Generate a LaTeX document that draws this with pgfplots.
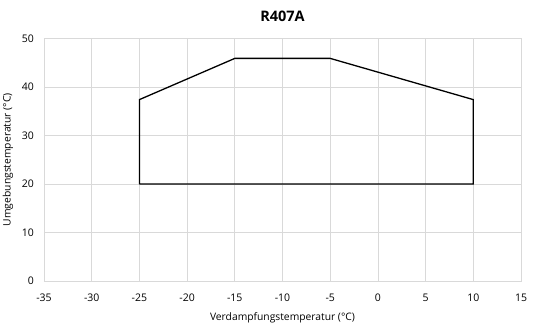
\documentclass[border=0pt]{standalone}
\usepackage{pgfplots}
\pgfplotsset{compat=1.18}
\usepackage{fontspec}
\setmainfont{Open Sans}
\definecolor{gridc}{RGB}{217,217,217}
\begin{document}
\begin{tikzpicture}
\path[use as bounding box] (-44pt,-44pt) rectangle (490pt,281pt);
\begin{axis}[
  at={(0pt,0pt)}, anchor=south west,
  scale only axis, width=477pt, height=242.5pt,
  xmin=-35, xmax=15, ymin=0, ymax=50,
  xtick={-35,-30,...,15}, ytick={0,10,...,50},
  grid=major, major grid style={gridc, line width=0.8pt},
  axis line style={gridc, line width=0.8pt},
  major tick length=0pt,
  /pgf/number format/assume math mode=true,
  tick label style={font=\fontsize{10.5}{12}\selectfont, inner sep=0pt},
  xticklabel style={anchor=center, yshift=-17pt},
  yticklabel style={anchor=east, xshift=-10pt},
  label style={font=\fontsize{10.3}{12}\selectfont},
  xlabel={Verdampfungstemperatur (°C)},
  ylabel={Umgebungstemperatur (°C)},
  xlabel style={at={(axis description cs:0.5,-0.1526)}, anchor=center},
  ylabel style={at={(axis description cs:-0.0755,0.5)}, anchor=center},
  title={R407A},
  title style={font=\bfseries\fontsize{14.5}{16}\selectfont, at={(axis description cs:0.5,1.068)}, anchor=center},
]
\addplot[black, line width=1.3pt] coordinates {
(-25,20) (-25,37.4) (-15,45.9) (-5,45.9) (10,37.4) (10,20) (-25,20)
};
\end{axis}
\end{tikzpicture}
\end{document}
